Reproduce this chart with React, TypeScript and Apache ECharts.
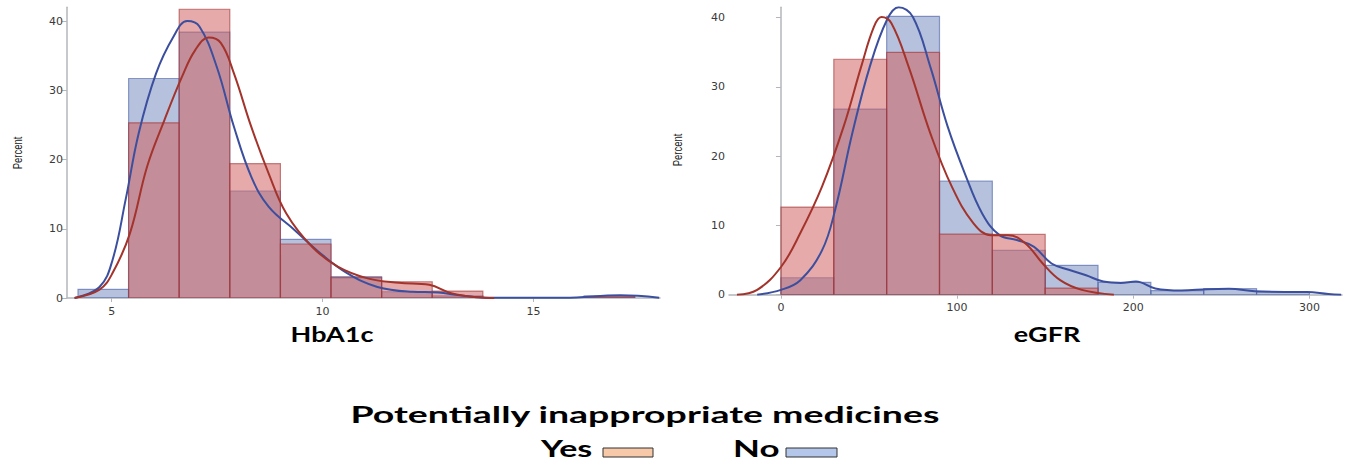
import React, { useEffect, useRef } from "react";
import * as echarts from "echarts";

// ---- HbA1c histogram (bin edges, percent per bin) ----
const hbEdges = [4.2, 5.4, 6.6, 7.8, 9.0, 10.2, 11.4, 12.6, 13.8, 15.0, 16.2, 17.4];
const hbNo = [1.25, 31.7, 38.4, 15.45, 8.47, 3.08, 0.9, 0.3, 0, 0, 0.3];
const hbYes = [0, 25.3, 41.7, 19.4, 7.8, 2.95, 2.35, 1.0, 0, 0, 0.15];

// ---- eGFR histogram ----
const egEdges = [0, 30, 60, 90, 120, 150, 180, 210, 240, 270, 300];
const egNo = [2.45, 26.8, 40.2, 16.4, 6.4, 4.24, 1.78, 0.6, 0.87, 0.4];
const egYes = [12.66, 34.0, 35.0, 8.76, 8.71, 0.95, 0, 0, 0, 0];

// ---- density curves [x, percent] ----
const hbNoCurve = [
  [4.12, 0], [4.71, 1.6], [5.02, 5.5], [5.33, 14.2], [5.64, 23.8], [6.05, 32.4],
  [6.46, 37.7], [6.79, 40.0], [7.08, 39.2], [7.49, 33.4], [7.9, 24.7], [8.31, 17.5],
  [8.72, 13.2], [9.34, 9.8], [9.96, 6.4], [10.58, 3.6], [11.3, 1.6], [12.12, 0.9],
  [12.74, 0.8], [13.25, 0.4], [13.97, 0.05], [15.72, 0.05], [17.06, 0.4], [17.98, 0.05],
];
const hbYesCurve = [
  [4.12, 0], [4.71, 1.2], [5.02, 3.6], [5.43, 9.3], [5.84, 19], [6.25, 25.7],
  [6.67, 32], [6.98, 35.8], [7.3, 37.6], [7.59, 36.8], [7.9, 32.4], [8.31, 24.7],
  [8.72, 18.0], [9.14, 12.2], [9.75, 7.4], [10.37, 4.5], [11.09, 2.8], [11.81, 2.2],
  [12.53, 1.9], [13.05, 0.7], [13.66, 0.1], [14.07, 0],
];
const egYesCurve = [
  [-25, 0], [-13.5, 0.7], [0, 4.0], [11, 8.9], [23.3, 15.6], [35.6, 24.3],
  [45.5, 32.9], [52.8, 38.7], [57, 40.1], [62.7, 39.2], [72.5, 32.9], [84.8, 23.3],
  [97, 15.6], [109.3, 10.3], [119.2, 8.6], [129, 8.6], [138.8, 7.4], [148.6, 4.5],
  [158.5, 2.1], [170.8, 0.7], [189, 0],
];
const egNoCurve = [
  [-13.5, 0], [0, 0.7], [11, 2.1], [23.3, 6.4], [30.7, 12.2], [40.5, 23.3],
  [50.4, 32.9], [60.2, 39.7], [66.8, 41.5], [74.9, 40.1], [84.8, 32.9], [94.6, 24.3],
  [104.4, 17.5], [114.3, 11.7], [124.1, 8.6], [133.9, 7.9], [143.7, 6.9], [153.6, 4.5],
  [163.4, 3.6], [173.2, 2.8], [183, 1.9], [192.9, 1.7], [201.5, 1.9], [212.5, 0.9],
  [227.3, 0.6], [242, 0.8], [254.3, 0.87], [269, 0.5], [286, 0.4], [298.5, 0.4],
  [310.8, 0.1], [318, 0],
];

const hbTicks = [5, 10, 15];
const egTicks = [0, 100, 200, 300];
const yTicks = [0, 10, 20, 30, 40];

const BLUE_FILL = "rgba(70,100,170,0.4)";
const BLUE_EDGE = "rgba(60,85,160,0.55)";
const RED_FILL = "rgba(209,98,98,0.54)";
const RED_EDGE = "rgba(160,50,50,0.6)";
const BLUE_LINE = "#3b4f9e";
const RED_LINE = "#a3332b";

function bins(edges: number[], vals: number[]) {
  return vals.map((v, i) => [edges[i], edges[i + 1], v]);
}

function histSeries(idx: number, data: number[][], fill: string, edge: string) {
  return {
    type: "custom",
    xAxisIndex: idx,
    yAxisIndex: idx,
    clip: true,
    encode: { x: [0, 1], y: 2 },
    data,
    renderItem: (params: any, api: any) => {
      const x0 = api.value(0);
      const x1 = api.value(1);
      const v = api.value(2);
      if (!(v > 0)) return null;
      const p0 = api.coord([x0, v]);
      const p1 = api.coord([x1, 0]);
      return {
        type: "rect",
        shape: { x: p0[0], y: p0[1], width: p1[0] - p0[0], height: p1[1] - p0[1] },
        style: { fill, stroke: edge, lineWidth: 1.2 },
      };
    },
  };
}

function lineSeries(idx: number, data: number[][], color: string) {
  return {
    type: "line",
    xAxisIndex: idx,
    yAxisIndex: idx,
    data,
    smooth: 0.4,
    showSymbol: false,
    symbol: "none",
    lineStyle: { color, width: 2 },
    clip: true,
  };
}

const axisGray = "#b3b7bb";
const labelColor = "#3a3a3a";

function xAxis(idx: number, min: number, max: number, ticks: number[], offset: number) {
  return {
    type: "value",
    gridIndex: idx,
    min,
    max,
    offset,
    axisLine: { show: true, lineStyle: { color: axisGray, width: 1.5 } },
    axisTick: { show: true, length: 4, customValues: ticks, lineStyle: { color: axisGray } },
    axisLabel: {
      customValues: ticks,
      color: labelColor,
      fontSize: 11,
      fontFamily: "DejaVu Sans",
      margin: 6,
    },
    splitLine: { show: false },
  };
}

function yAxis(idx: number, max: number) {
  return {
    type: "value",
    gridIndex: idx,
    min: 0,
    max,
    axisLine: { show: true, lineStyle: { color: axisGray, width: 1.5 } },
    axisTick: { show: true, length: 5, customValues: yTicks, lineStyle: { color: axisGray } },
    axisLabel: {
      customValues: yTicks,
      color: labelColor,
      fontSize: 11,
      fontFamily: "DejaVu Sans",
      margin: 4,
    },
    splitLine: { show: false },
  };
}

export default function App() {
  const ref = useRef<HTMLDivElement>(null);
  useEffect(() => {
    if (!ref.current) return;
    const chart = echarts.init(ref.current, null, { renderer: "svg" });
    const boldFont = "bold 20px Lato";
    const legendFont = "bold 23px Lato";
    chart.setOption({
      animation: false,
      backgroundColor: "#ffffff",
      grid: [
        { left: 67, top: 7.15, width: 593, height: 290.85 },
        { left: 729, top: 7.3, width: 613, height: 287.4 },
      ],
      xAxis: [xAxis(0, 3.94, 18.0, hbTicks, 2), xAxis(1, -29.5, 318.5, egTicks, 1.5)],
      yAxis: [yAxis(0, 42), yAxis(1, 41.5)],
      series: [
        histSeries(0, bins(hbEdges, hbNo), BLUE_FILL, BLUE_EDGE),
        histSeries(0, bins(hbEdges, hbYes), RED_FILL, RED_EDGE),
        lineSeries(0, hbNoCurve, BLUE_LINE),
        lineSeries(0, hbYesCurve, RED_LINE),
        histSeries(1, bins(egEdges, egNo), BLUE_FILL, BLUE_EDGE),
        histSeries(1, bins(egEdges, egYes), RED_FILL, RED_EDGE),
        lineSeries(1, egNoCurve, BLUE_LINE),
        lineSeries(1, egYesCurve, RED_LINE),
      ],
      graphic: [
        {
          type: "text", x: 18, y: 153, rotation: Math.PI / 2, scaleY: 1.3,
          style: { text: "Percent", font: "9.5px 'Liberation Sans'", fill: "#222", textAlign: "center", textVerticalAlign: "middle" },
        },
        {
          type: "text", x: 678, y: 150, rotation: Math.PI / 2, scaleY: 1.3,
          style: { text: "Percent", font: "9.5px 'Liberation Sans'", fill: "#222", textAlign: "center", textVerticalAlign: "middle" },
        },
        {
          type: "text", x: 332, y: 334, scaleX: 1.35,
          style: { text: "HbA1c", font: boldFont, fill: "#000", textAlign: "center", textVerticalAlign: "middle" },
        },
        {
          type: "text", x: 1047, y: 334, scaleX: 1.35,
          style: { text: "eGFR", font: boldFont, fill: "#000", textAlign: "center", textVerticalAlign: "middle" },
        },
        {
          type: "text", x: 645, y: 414, scaleX: 1.63,
          style: { text: "Potentially inappropriate medicines", font: legendFont, fill: "#000", textAlign: "center", textVerticalAlign: "middle" },
        },
        {
          type: "text", x: 541, y: 448, scaleX: 1.48,
          style: { text: "Yes", font: legendFont, fill: "#000", textAlign: "left", textVerticalAlign: "middle" },
        },
        {
          type: "rect", shape: { x: 603, y: 448, width: 50, height: 9 },
          style: { fill: "#f7c9a8", stroke: "#333", lineWidth: 1 },
        },
        {
          type: "text", x: 733, y: 448, scaleX: 1.52,
          style: { text: "No", font: legendFont, fill: "#000", textAlign: "left", textVerticalAlign: "middle" },
        },
        {
          type: "rect", shape: { x: 786, y: 448, width: 51, height: 9 },
          style: { fill: "#b4c6ea", stroke: "#333", lineWidth: 1 },
        },
      ],
    });
    return () => chart.dispose();
  }, []);
  return (
    <div
      ref={ref}
      style={{ position: "fixed", left: 0, top: 0, width: 1351, height: 461, background: "#fff" }}
    />
  );
}
